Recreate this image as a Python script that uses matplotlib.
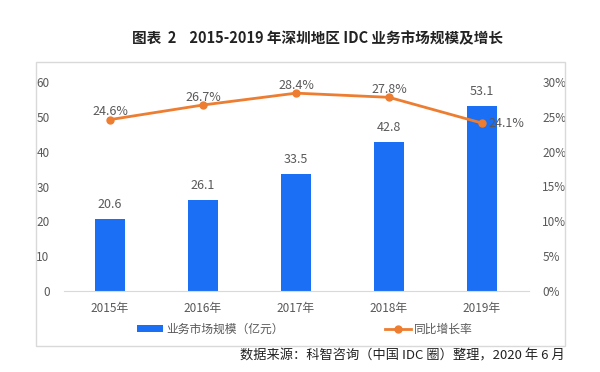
import matplotlib
matplotlib.use('Agg')
import matplotlib.pyplot as plt
from matplotlib.patches import Rectangle
import numpy as np

plt.rcParams['font.family'] = ['Noto Sans CJK SC', 'DejaVu Sans']

# data
years = ['2015年', '2016年', '2017年', '2018年', '2019年']
scale = [20.6, 26.1, 33.5, 42.8, 53.1]        # 业务市场规模（亿元）
growth = [24.6, 26.7, 28.4, 27.8, 24.1]       # 同比增长率 %

bar_color = '#1a6ff5'
line_color = '#ed7d31'
text_color = '#595959'

fig = plt.figure(figsize=(6, 3.72), dpi=100)

# outer frame
fig.patches.append(Rectangle((36/600, 1-346/372), 529/600, 284/372, transform=fig.transFigure,
                             fill=False, edgecolor='#d9d9d9', linewidth=1))

ax = fig.add_axes([63.5/600, 1-291/372, 465/600, 209/372])
x = np.arange(len(years))
bars = ax.bar(x, scale, width=0.32, color=bar_color, label='业务市场规模（亿元）', zorder=2)
ax.set_ylim(0, 60)
ax.set_yticks(range(0, 61, 10))
ax.set_xlim(-0.5, len(years)-0.5)
ax.set_xticks(x)
ax.set_xticklabels(years)
for s in ['top', 'right', 'left']:
    ax.spines[s].set_visible(False)
ax.spines['bottom'].set_color('#d9d9d9')
ax.tick_params(axis='both', length=0, labelsize=8.5, colors=text_color)
ax.tick_params(axis='y', pad=10)
ax.tick_params(axis='x', pad=8)
for i, v in enumerate(scale):
    ax.annotate(f'{v}', (x[i], v), xytext=(0, 6), textcoords='offset points',
                ha='center', va='bottom', fontsize=9, color=text_color)

ax2 = ax.twinx()
ax2.plot(x, growth, color=line_color, marker='o', markersize=5, linewidth=2, label='同比增长率', zorder=3)
ax2.set_ylim(0, 30)
ax2.set_yticks(range(0, 31, 5))
ax2.set_yticklabels([f'{t}%' for t in range(0, 31, 5)])
for s in ['top', 'right', 'left', 'bottom']:
    ax2.spines[s].set_visible(False)
ax2.tick_params(axis='y', length=0, labelsize=8.5, colors=text_color, pad=10)
for i, v in enumerate(growth):
    if i == len(growth) - 1:
        ax2.annotate(f'{v}%', (x[i], v), xytext=(5, 0), textcoords='offset points',
                     ha='left', va='center', fontsize=9, color=text_color)
    else:
        ax2.annotate(f'{v}%', (x[i], v), xytext=(0, 1), textcoords='offset points',
                     ha='center', va='bottom', fontsize=9, color=text_color)

h1, l1 = ax.get_legend_handles_labels()
h2, l2 = ax2.get_legend_handles_labels()
fig.legend(h1 + h2, l1 + l2, loc='center', bbox_to_anchor=(305/600, 1-329/372), ncol=2,
           frameon=False, fontsize=8.5, labelcolor=text_color, columnspacing=8.5,
           handlelength=2.2, handleheight=0.6, handletextpad=0.3)

fig.text(318/600, 1-38/372, '图表  2    2015-2019 年深圳地区 IDC 业务市场规模及增长',
         ha='center', va='center', fontsize=10.5, fontweight='bold', color='#222222')
fig.text(565/600, 1-356/372, '数据来源：科智咨询（中国 IDC 圈）整理，2020 年 6 月',
         ha='right', va='center', fontsize=9.5, color='#222222')

fig.savefig('out.png', dpi=100)
